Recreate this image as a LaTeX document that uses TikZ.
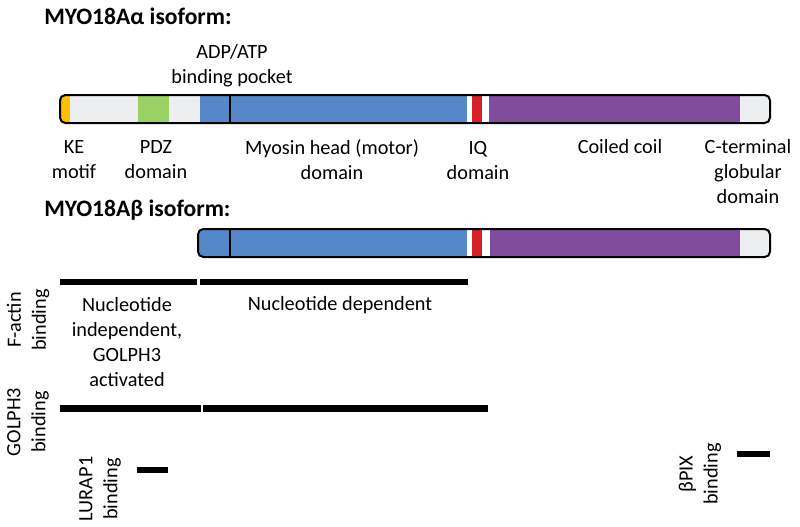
\documentclass[tikz,border=0pt]{standalone}
\usepackage{fontspec}
\setmainfont{Carlito}

\definecolor{kegold}{RGB}{255,190,0}
\definecolor{pdzgreen}{RGB}{155,208,98}
\definecolor{motorblue}{RGB}{84,136,200}
\definecolor{iqred}{RGB}{212,32,38}
\definecolor{coilpurple}{RGB}{130,76,158}
\definecolor{linkgray}{RGB}{237,238,239}

\tikzset{
	lbl/.style={inner sep=0.75pt, align=center, font=\fontsize{15.2}{18.75}\selectfont},
	ttl/.style={anchor=west, inner sep=0.75pt, font=\fontsize{17.7}{20}\selectfont\bfseries},
	domainbar/.style={line width=1.5pt, rounded corners=4pt},
	pocket/.style={line width=1.6pt},
	bindbar/.style={line width=4.6pt}
}

\begin{document}
\begin{tikzpicture}[x=0.75pt,y=0.75pt,yscale=-1,xscale=1]
	\useasboundingbox (0,0) rectangle (800,526);
	% alpha isoform
	\draw (43,16) node (alphattl) [ttl] {MYO18Aα isoform:};
	\draw (232,66) node (adplbl) [lbl] {ADP/ATP\\binding pocket};
	\begin{scope}
		\clip [rounded corners=4pt] (60,95) rectangle (770,123);
		\fill [linkgray] (60,95) rectangle (770,123);
		\fill [kegold] (60,95) rectangle (70,123);
		\fill [pdzgreen] (138,95) rectangle (169,123);
		\fill [motorblue] (200,95) rectangle (467,123);
		\fill [white] (467,95) rectangle (489,123);
		\fill [iqred] (472,95) rectangle (482,123);
		\fill [coilpurple] (489,95) rectangle (740,123);
	\end{scope}
	\draw [domainbar] (60,95) rectangle (770,123);
	\draw [pocket] (230,95) -- (230,123);
	\draw (74,160) node (kelbl) [lbl] {KE\\motif};
	\draw (156,160) node (pdzlbl) [lbl] {PDZ\\domain};
	\draw (332,160) node (motorlbl) [lbl] {Myosin head (motor)\\domain};
	\draw (478,160) node (iqlbl) [lbl] {IQ\\domain};
	\draw (620,147) node (coillbl) [lbl] {Coiled coil};
	\draw (748,172) node (ctermlbl) [lbl] {C-terminal\\globular\\domain};
	% beta isoform
	\draw (43,210) node (betattl) [ttl] {MYO18Aβ isoform:};
	\begin{scope}
		\clip [rounded corners=4pt] (198,229) rectangle (770,257);
		\fill [linkgray] (198,229) rectangle (770,257);
		\fill [motorblue] (198,229) rectangle (467,257);
		\fill [white] (467,229) rectangle (490,257);
		\fill [iqred] (472,229) rectangle (482,257);
		\fill [coilpurple] (490,229) rectangle (740,257);
	\end{scope}
	\draw [domainbar] (198,229) rectangle (770,257);
	\draw [pocket] (230,229) -- (230,257);
	% binding regions
	\draw (28,320) node (actinlbl) [lbl, rotate=90] {F-actin\\binding};
	\draw [bindbar] (60,282) -- (197,282);
	\draw [bindbar] (200,282) -- (468,282);
	\draw (127,342) node (indeplbl) [lbl] {Nucleotide\\independent,\\GOLPH3\\activated};
	\draw (340,305) node (deplbl) [lbl] {Nucleotide dependent};
	\draw (28,422) node (golphlbl) [lbl, rotate=90] {GOLPH3\\binding};
	\draw [bindbar] (60,408.5) -- (201,408.5);
	\draw [bindbar] (203,408.5) -- (488,408.5);
	\draw (100,489) node (lurlbl) [lbl, rotate=90] {LURAP1\\binding};
	\draw [bindbar] (137,470) -- (168,470);
	\draw (700,474) node (pixlbl) [lbl, rotate=90] {βPIX\\binding};
	\draw [bindbar] (737,454) -- (770,454);
\end{tikzpicture}
\end{document}
